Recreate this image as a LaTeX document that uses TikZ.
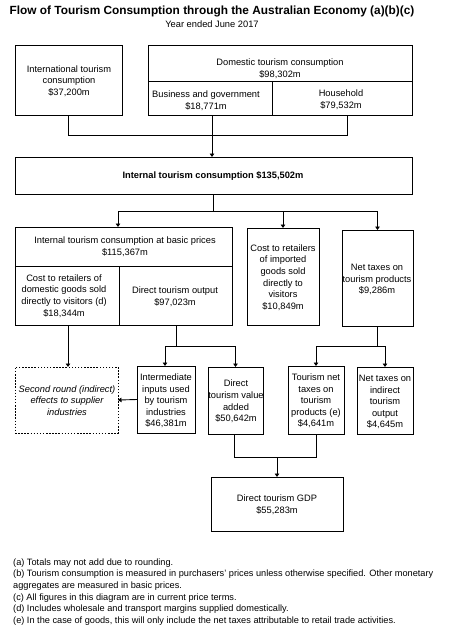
\documentclass[tikz,border=0pt]{standalone}
\usepackage{fontspec}
\setmainfont{Liberation Sans}
\usetikzlibrary{arrows.meta,calc}
\newcommand\mybox[6][]{%
  \pgfmathsetmacro\bw{#5-#3}\pgfmathsetmacro\bh{#6-#4}%
  \pgfmathsetmacro\bcx{(#3+#5)/2}\pgfmathsetmacro\bcy{(#4+#6)/2}%
  \node[boxs,#1,minimum width=\bw pt,minimum height=\bh pt] (#2) at (\bcx,\bcy) {};}
\begin{document}
\begin{tikzpicture}[x=1pt,y=-1pt,
  boxs/.style={draw,line width=0.9pt,inner sep=0pt,outer sep=0pt},
  dotbox/.style={dash pattern=on 1.5pt off 1.6pt},
  txt/.style={align=center,inner sep=0pt,font=\fontsize{9.3}{11.6}\selectfont},
  ln/.style={line width=0.9pt},
  arr/.style={line width=0.9pt,-{Triangle[width=4.5pt,length=3.5pt]}}]
\useasboundingbox (0,0) rectangle (453,632);
% title
\node[inner sep=0pt,font=\fontsize{11.85}{13}\selectfont\bfseries] (title) at (212,11) {Flow of Tourism Consumption through the Australian Economy (a)(b)(c)};
\node[txt] (sub) at (212,24) {Year ended June 2017};
% boxes
\mybox{intl}{15}{45}{122}{115}
\mybox{domtop}{148}{45}{412}{81}
\mybox{bus}{148}{81}{272}{115}
\mybox{hh}{272}{81}{412}{115}
\mybox{internal}{15}{157}{412}{194}
\mybox{basic}{15}{227}{232}{266}
\mybox{cdom}{15}{266}{119}{325}
\mybox{dto}{119}{266}{232}{325}
\mybox{imp}{247}{228}{319}{325}
\mybox{ntp}{342}{230}{413}{326}
\mybox[dotbox]{sr}{15}{367}{118}{433}
\mybox{inter}{137}{366}{195}{433}
\mybox{dva}{208}{367}{263}{434}
\mybox{tnt}{288}{366}{344}{434}
\mybox{nti}{357}{367}{413}{434}
\mybox{gdp}{211}{477}{343}{531}
% texts
\node[txt] (t-intl) at (69,81) {International tourism\\consumption\\\$37,200m};
\node[txt] (t-dom) at (280,69) {Domestic tourism consumption\\\$98,302m};
\node[txt] (t-bus) at (206,100.5) {Business and government\\\$18,771m};
\node[txt] (t-hh) at (341,100) {Household\\\$79,532m};
\node[txt,font=\fontsize{9.3}{11.6}\selectfont\bfseries] (t-int) at (213,176) {Internal tourism consumption \$135,502m};
\node[txt] (t-basic) at (125,247) {Internal tourism consumption at basic prices\\\$115,367m};
\node[txt] (t-cdom) at (64,296) {Cost to retailers of\\domestic goods sold\\directly to visitors (d)\\\$18,344m};
\node[txt] (t-dto) at (175,297) {Direct tourism output\\\$97,023m};
\node[txt] (t-imp) at (283,277.5) {Cost to retailers\\of imported\\goods sold\\directly to\\visitors\\\$10,849m};
\node[txt] (t-ntp) at (377,279.5) {Net taxes on\\tourism products\\\$9,286m};
\node[txt,font=\fontsize{9.3}{11.6}\selectfont\itshape] (t-sr) at (67,400.5) {Second round (indirect)\\effects to supplier\\industries};
\node[txt] (t-inter) at (166,401) {Intermediate\\inputs used\\by tourism\\industries\\\$46,381m};
\node[txt] (t-dva) at (236,401.5) {Direct\\tourism value\\added\\\$50,642m};
\node[txt] (t-tnt) at (316,401) {Tourism net\\taxes on\\tourism\\products (e)\\\$4,641m};
\node[txt] (t-nti) at (385,402) {Net taxes on\\indirect\\tourism\\output\\\$4,645m};
\node[txt] (t-gdp) at (277,505) {Direct tourism GDP\\\$55,283m};
% connectors
\coordinate (j1) at (212,135);
\draw[ln] (intl.south) |- (j1);
\draw[ln] ([xshift=5pt]hh.south) |- (j1);
\draw[ln] (bus.south -| j1) -- (j1);
\draw[arr] (j1) -- (internal.north -| j1);
\coordinate (j2) at (213,211);
\draw[ln] (internal.south -| j2) -- (j2);
\draw[arr] (j2) -| ([xshift=-5.5pt]basic.north);
\draw[arr] (j2) -| (imp.north);
\draw[arr] (j2) -| (ntp.north);
\draw[arr] ([xshift=1pt]cdom.south) -- ([xshift=1pt]cdom.south |- sr.north);
\coordinate (j3) at (176,346);
\draw[ln] (dto.south -| j3) -- (j3);
\draw[arr] (j3) -| ([xshift=-1pt]inter.north);
\draw[arr] (j3) -| (dva.north);
\draw[arr] (inter.west) -- (sr.east);
\coordinate (j4) at (377,346);
\draw[ln] (ntp.south -| j4) -- (j4);
\draw[arr] (j4) -| (tnt.north);
\draw[arr] (j4) -| (nti.north);
\coordinate (j5) at (277,457);
\draw[ln] ([xshift=-1.5pt]dva.south) |- (j5);
\draw[ln] (tnt.south) |- (j5);
\draw[arr] (j5) -- (gdp.north);
% footnotes
\node[anchor=north west,align=left,inner sep=0pt,font=\fontsize{9.2}{11.6}\selectfont] (notes) at (13,558.5) {(a) Totals may not add due to rounding.\\(b) Tourism consumption is measured in purchasers' prices unless otherwise specified. Other monetary\\aggregates are measured in basic prices.\\(c) All figures in this diagram are in current price terms.\\(d) Includes wholesale and transport margins supplied domestically.\\(e) In the case of goods, this will only include the net taxes attributable to retail trade activities.};
\end{tikzpicture}
\end{document}
